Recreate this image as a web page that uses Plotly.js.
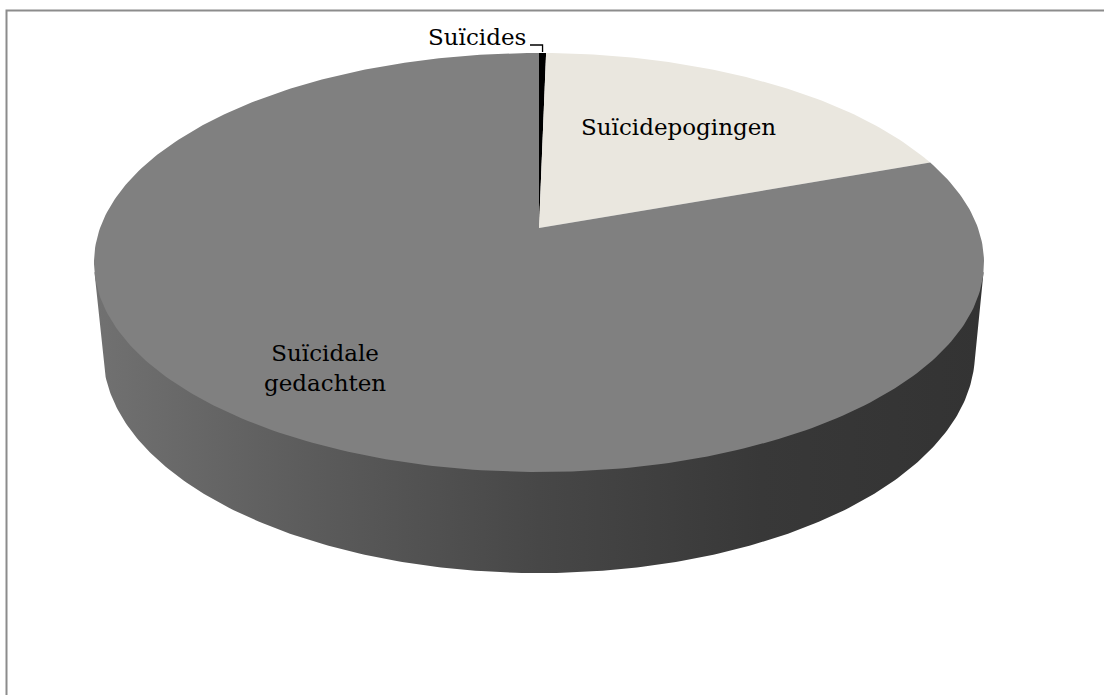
<!DOCTYPE html>
<html><head><meta charset="utf-8">
<script src="https://cdn.plot.ly/plotly-3.0.1.min.js"></script>
<style>html,body{margin:0;padding:0;background:#fff}#chart{width:1104px;height:695px}</style>
</head><body><div id="chart"></div>
<script>
// Shares of the three categories (percent of the whole)
const categories = ['Suïcides', 'Suïcidepogingen', 'Suïcidale gedachten'];
const shares = [0.3, 19.2, 80.5];
const sliceColors = ['#000000', '#eae7df', '#808080'];
const sideColors = [[0, '#717171'], [0.25, '#5b5b5b'], [0.5, '#474747'], [0.75, '#383838'], [1, '#333333']];

const W = 1104, H = 695;

// Perspective camera looking down on a unit-radius disc
const cx = 539, cy = 228;          // screen position of the disc centre
const focal = 2362, dist = 5.381;  // focal length (px) and camera distance
const tilt = 27.67 * Math.PI / 180;
const thick = 0.2352;              // disc thickness
const st = Math.sin(tilt), ct = Math.cos(tilt);

// theta: clockwise from 12 o'clock (the far edge), y: 0 on the top face, -thick at the bottom
function proj(theta, y, r) {
  r = r === undefined ? 1 : r;
  const X = r * Math.sin(theta), Z = r * Math.cos(theta);
  const v = Z * st + y * ct;
  const w = Z * ct - y * st;
  const k = focal / (dist + w);
  return [cx + X * k, cy - v * k];
}

function arc(a0, a1, y, n, r) {
  const pts = [];
  for (let i = 0; i <= n; i++) pts.push(proj(a0 + (a1 - a0) * i / n, y, r));
  return pts;
}

const total = shares.reduce((s, v) => s + v, 0);
const traces = [];

// Visible outer wall of the disc; its upper edge tucks under the top face
const edge = Math.acos(-1 / (dist * ct));
const wall = [proj(edge, 0)]
  .concat(arc(edge, 2 * Math.PI - edge, 0, 240, 0.97))
  .concat([proj(2 * Math.PI - edge, 0)])
  .concat(arc(2 * Math.PI - edge, edge, -thick, 240));
wall.push(wall[0]);
traces.push({
  type: 'scatter', mode: 'lines', fill: 'toself',
  x: wall.map(p => p[0]), y: wall.map(p => p[1]),
  line: {width: 0, color: 'rgba(0,0,0,0)'},
  fillgradient: {type: 'horizontal', colorscale: sideColors},
  hoverinfo: 'skip', showlegend: false
});

// Top face wedges
let acc = 0;
const mids = [];
shares.forEach((v, i) => {
  const a0 = acc / total * 2 * Math.PI;
  acc += v;
  const a1 = acc / total * 2 * Math.PI;
  mids.push((a0 + a1) / 2);
  const n = Math.max(4, Math.ceil((a1 - a0) / (2 * Math.PI) * 400));
  const pts = [[cx, cy]].concat(arc(a0, a1, 0, n));
  pts.push(pts[0]);
  traces.push({
    type: 'scatter', mode: 'lines', fill: 'toself', name: categories[i],
    x: pts.map(p => p[0]), y: pts.map(p => p[1]),
    fillcolor: sliceColors[i],
    line: {width: 0, color: sliceColors[i]},
    hoverinfo: 'name', showlegend: false
  });
});

// Leader line for the thin wedge
const tip = proj(mids[0], 0);
traces.push({
  type: 'scatter', mode: 'lines',
  x: [530, tip[0], tip[0]], y: [45, 45, tip[1] - 1],
  line: {color: '#000000', width: 1.3},
  hoverinfo: 'skip', showlegend: false
});

const labelFont = {family: 'DejaVu Serif', size: 23, color: '#000000'};
const layout = {
  width: W, height: H,
  margin: {l: 0, r: 0, t: 0, b: 0},
  paper_bgcolor: '#ffffff', plot_bgcolor: '#ffffff',
  xaxis: {range: [0, W], visible: false, fixedrange: true},
  yaxis: {range: [H, 0], visible: false, fixedrange: true},
  showlegend: false,
  shapes: [{
    type: 'rect', xref: 'x', yref: 'y', x0: 6.5, y0: 10.5, x1: W + 20, y1: H + 20,
    line: {color: '#8c8c8c', width: 2}
  }],
  annotations: [
    {x: 477, y: 37, text: categories[0], showarrow: false, font: labelFont, xanchor: 'center', yanchor: 'middle'},
    {x: 678, y: 127, text: categories[1], showarrow: false, font: labelFont, xanchor: 'center', yanchor: 'middle'},
    {x: 325, y: 368, text: 'Suïcidale<br>gedachten', showarrow: false, font: labelFont, align: 'center', xanchor: 'center', yanchor: 'middle'}
  ]
};

Plotly.newPlot('chart', traces, layout, {staticPlot: true, displayModeBar: false});
</script>
</body></html>
